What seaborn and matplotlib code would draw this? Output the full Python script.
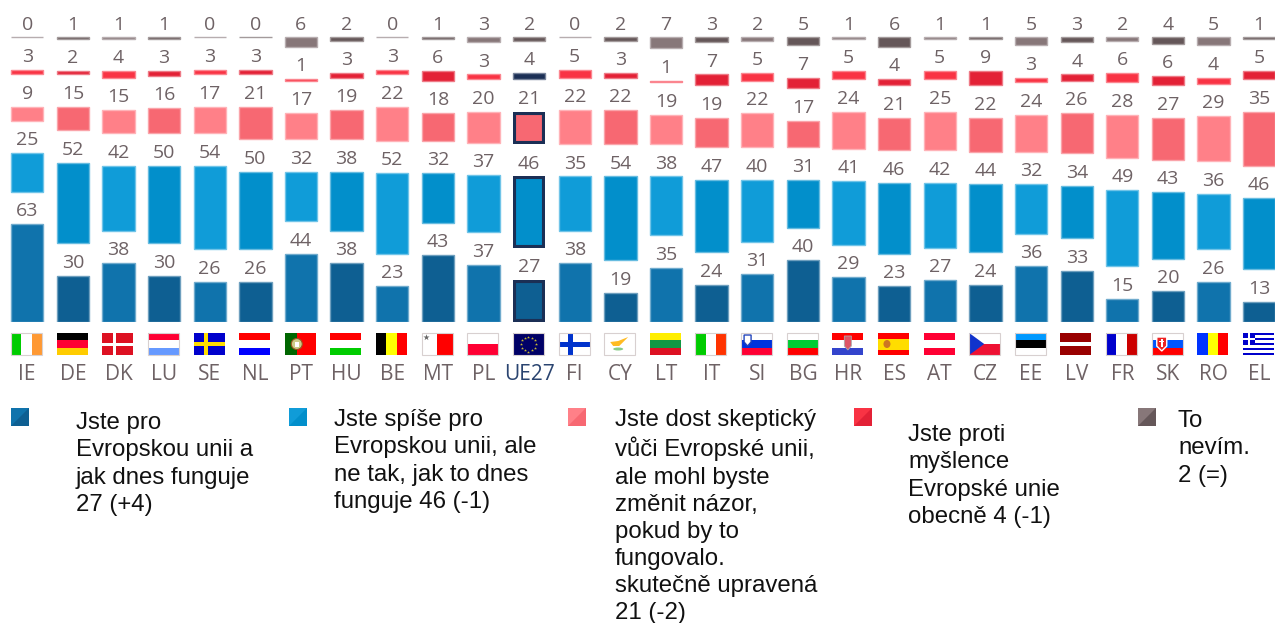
import numpy as np
import pandas as pd
import matplotlib
matplotlib.use('Agg')
import matplotlib.pyplot as plt
from matplotlib.colors import to_rgb
from matplotlib.patches import Rectangle, Polygon, Circle, Ellipse
import seaborn as sns

### data
countries = ['IE', 'DE', 'DK', 'LU', 'SE', 'NL', 'PT', 'HU', 'BE', 'MT', 'PL', 'UE27', 'FI', 'CY',
             'LT', 'IT', 'SI', 'BG', 'HR', 'ES', 'AT', 'CZ', 'EE', 'LV', 'FR', 'SK', 'RO', 'EL']
pro = [63, 30, 38, 30, 26, 26, 44, 38, 23, 43, 37, 27, 38, 19,
       35, 24, 31, 40, 29, 23, 27, 24, 36, 33, 15, 20, 26, 13]
spise_pro = [25, 52, 42, 50, 54, 50, 32, 38, 52, 32, 37, 46, 35, 54,
             38, 47, 40, 31, 41, 46, 42, 44, 32, 34, 49, 43, 36, 46]
skepticky = [9, 15, 15, 16, 17, 21, 17, 19, 22, 18, 20, 21, 22, 22,
             19, 19, 22, 17, 24, 21, 25, 22, 24, 26, 28, 27, 29, 35]
proti = [3, 2, 4, 3, 3, 3, 1, 3, 3, 6, 3, 4, 5, 3,
         1, 7, 5, 7, 5, 4, 5, 9, 3, 4, 6, 6, 4, 5]
nevim = [0, 1, 1, 1, 0, 0, 6, 2, 0, 1, 3, 2, 0, 2,
         7, 3, 2, 5, 1, 6, 1, 1, 5, 3, 2, 4, 5, 1]
series = [pro, spise_pro, skepticky, proti, nevim]

# every country alternates light / dark tone of the same colour
light = ['#1073AC', '#109CD8', '#FF8088', '#F93344', '#877779']
dark = ['#0E5F92', '#028FCB', '#F76872', '#E32136', '#655759']
navy = '#1B2F55'

legend_texts = ['Jste pro\nEvropskou unii a\njak dnes funguje\n27 (+4)',
                'Jste spíše pro\nEvropskou unii, ale\nne tak, jak to dnes\nfunguje 46 (-1)',
                'Jste dost skeptický\nvůči Evropské unii,\nale mohl byste\nzměnit názor,\npokud by to\nfungovalo.\nskutečně upravená\n21 (-2)',
                'Jste proti\nmyšlence\nEvropské unie\nobecně 4 (-1)',
                'To\nnevím.\n2 (=)']
legend_swatch_x = [11, 289, 568, 853.5, 1138]
legend_text_x = [76, 334, 615, 908, 1178]
legend_text_y = [412, 409, 409, 424, 410]
legend_spacing = [1.32, 1.32, 1.3, 1.32, 1.32]

W, H = 1275, 623
BASE = 322       # pixel row of the bars' baseline
UNIT = 1.55      # pixels per percent
GAP = 20.9       # empty space between two segments, in percent
PITCH = 45.63
FIRST = 27.2

sns.set_theme(style='white')
plt.rcParams['font.family'] = ['Open Sans', 'DejaVu Sans']

fig = plt.figure(figsize=(W / 100, H / 100), dpi=100, facecolor='white')
ax = fig.add_axes([0, (H - BASE) / H, 1, BASE / H])


def lighten(c, k=0.4):
    return tuple(np.array(to_rgb(c)) * (1 - k) + k)


### stacked bars, each segment lifted by the gap
EU = countries.index('UE27')
bottoms = np.zeros(len(countries))
for s, values in enumerate(series):
    df = pd.DataFrame({'country': countries, 'value': values})
    sns.barplot(data=df, x='country', y='value', order=countries, bottom=bottoms, width=0.708,
                color=light[s], errorbar=None, linewidth=1, saturation=1, ax=ax)
    for i, bar in enumerate(ax.containers[-1]):
        col = light[s] if i % 2 == 0 else dark[s]
        bar.set_facecolor(col)
        bar.set_edgecolor(lighten(col))
        if i == EU and s < 3:
            bar.set_edgecolor(navy)
            bar.set_linewidth(4.4)
            bar.set_clip_path(bar)
        if i == EU and s == 3:
            bar.set_facecolor(navy)
            bar.set_edgecolor(lighten(navy))
    for i, v in enumerate(values):
        ax.annotate(str(v), (i, bottoms[i] + v), xytext=(0, 5.7), textcoords='offset points',
                    ha='center', va='baseline', fontsize=14, color='#6E6265')
    bottoms = bottoms + np.array(values) + GAP

ax.set_xlim(-FIRST / PITCH, (W - FIRST) / PITCH)
ax.set_ylim(0, BASE / UNIT)
ax.set_xlabel('')
ax.set_ylabel('')
ax.set_yticks([])
ax.tick_params(axis='x', length=0, pad=30, labelsize=15, labelcolor='#6E6265')
ax.get_xticklabels()[EU].set_color('#2A4470')
sns.despine(ax=ax, left=True, bottom=True)
ax.patch.set_alpha(0)

### flags and legend squares live on an overlay in pixel units
ov = fig.add_axes([0, 0, 1, 1])
ov.set_xlim(0, W)
ov.set_ylim(H, 0)
ov.axis('off')
ov.patch.set_alpha(0)

FW, FH, FY = 31, 22, 333

h_flags = {'DE': ['#000000', '#FF0033', '#FFCC00'], 'LU': ['#FF0033', '#FFFFFF', '#6699FF'],
           'NL': ['#FF0000', '#FFFFFF', '#0000FF'], 'HU': ['#FF0000', '#FFFFFF', '#00CC00'],
           'AT': ['#FF0033', '#FFFFFF', '#FF0033'], 'EE': ['#0099FF', '#000000', '#FFFFFF'],
           'LT': ['#FFEE00', '#119944', '#DD1122'], 'SI': ['#FFFFFF', '#0033DD', '#FF0033'],
           'BG': ['#FFFFFF', '#00CC33', '#FF0000'], 'HR': ['#FF0000', '#FFFFFF', '#3344CC'],
           'SK': ['#FFFFFF', '#0055FF', '#FF0000'], 'PL': ['#FFFFFF', '#FF0033'],
           'LV': ['#990000', '#990000', '#FFFFFF', '#990000', '#990000'],
           'ES': ['#FF0000', '#FFDD00', '#FFDD00', '#FF0000'],
           'EL': ['#0000CC', '#FFFFFF'] * 4 + ['#0000CC']}
v_flags = {'IE': ['#00CC00', '#FFFFFF', '#FF9933'], 'BE': ['#000000', '#FFFF00', '#FF0000'],
           'IT': ['#00CC00', '#FFFFFF', '#FF3300'], 'FR': ['#0000CC', '#FFFFFF', '#CC0000'],
           'RO': ['#0033FF', '#FFFF00', '#FF0000'], 'MT': ['#FFFFFF', '#FF0000'],
           'PT': ['#006600', '#006600', '#FF0000', '#FF0000', '#FF0000']}
cross_flags = {'DK': ['#DD1122', '#FFFFFF', 3], 'SE': ['#0000CC', '#FFDD00', 4], 'FI': ['#FFFFFF', '#0033CC', 5]}
bordered = ['IE', 'IT', 'FR', 'LU', 'MT', 'PL', 'FI', 'CY', 'SI', 'BG', 'CZ', 'EE', 'SK', 'UE27']


def rect(x, y, w, h, c, z=2):
    ov.add_patch(Rectangle((x, y), w, h, facecolor=c, edgecolor='none', zorder=z))


def draw_flag(code, x):
    if code in h_flags:
        cols = h_flags[code]
        for k, c in enumerate(cols):
            rect(x, FY + k * FH / len(cols), FW, FH / len(cols), c)
    elif code in v_flags:
        cols = v_flags[code]
        for k, c in enumerate(cols):
            rect(x + k * FW / len(cols), FY, FW / len(cols), FH, c)
    elif code in cross_flags:
        bg, fg, t = cross_flags[code]
        rect(x, FY, FW, FH, bg)
        rect(x + 12 - t / 2, FY, t, FH, fg, 3)
        rect(x, FY + 11 - t / 2, FW, t, fg, 3)
    elif code == 'UE27':
        rect(x, FY, FW, FH, '#000066')
        a = np.arange(12) * np.pi / 6
        ov.scatter(x + FW / 2 + 7.5 * np.cos(a), FY + FH / 2 + 7.5 * np.sin(a), s=5, marker='*',
                   color='#CCBB33', linewidths=0, zorder=3)
    elif code == 'CY':
        rect(x, FY, FW, FH, '#FFFFFF')
        ov.add_patch(Polygon([[x + 6, FY + 9], [x + 14, FY + 8], [x + 24, FY + 4], [x + 19, FY + 9],
                              [x + 15, FY + 13], [x + 9, FY + 13]], facecolor='#FFBB22',
                             edgecolor='none', zorder=3))
        ov.add_patch(Ellipse((x + 14, FY + 16), 10, 3, facecolor='#88CC88', edgecolor='none', zorder=3))
    elif code == 'CZ':
        rect(x, FY, FW, FH / 2, '#FFFFFF')
        rect(x, FY + FH / 2, FW, FH / 2, '#EE1133')
        ov.add_patch(Polygon([[x, FY], [x + 15, FY + FH / 2], [x, FY + FH]], facecolor='#1133CC',
                             edgecolor='none', zorder=3))
    # small emblems
    if code == 'PT':
        ov.add_patch(Circle((x + 12, FY + 11), 5.5, facecolor='#CCCC88', edgecolor='#995522', lw=0.8, zorder=3))
        rect(x + 10, FY + 8.5, 4, 5, '#FFFFFF', 4)
    if code == 'ES':
        ov.add_patch(Ellipse((x + 9, FY + 11), 7, 8, facecolor='#CC7722', edgecolor='none', zorder=3))
    if code == 'SI':
        ov.add_patch(Polygon([[x + 3, FY + 2], [x + 10, FY + 2], [x + 10, FY + 9], [x + 6.5, FY + 13], [x + 3, FY + 9]],
                             facecolor='#FFFFFF', edgecolor='#2244BB', lw=1, zorder=3))
    if code == 'SK':
        ov.add_patch(Polygon([[x + 5, FY + 4], [x + 15, FY + 4], [x + 15, FY + 13], [x + 10, FY + 18], [x + 5, FY + 13]],
                             facecolor='#EE2222', edgecolor='#FFFFFF', lw=1, zorder=3))
        rect(x + 9.2, FY + 6, 1.6, 8, '#FFFFFF', 4)
        rect(x + 7.5, FY + 8, 5, 1.4, '#FFFFFF', 4)
    if code == 'HR':
        ov.add_patch(Polygon([[x + 12, FY + 3], [x + 19, FY + 3], [x + 19, FY + 13], [x + 15.5, FY + 17], [x + 12, FY + 13]],
                             facecolor='#DD5566', edgecolor='#AAAAAA', lw=0.6, zorder=3))
    if code == 'MT':
        ov.scatter([x + 4], [FY + 4], s=22, marker='*', color='#666666', linewidths=0, zorder=3)
    if code == 'EL':
        rect(x, FY, 12, 12.2, '#0000CC', 3)
        rect(x + 4.8, FY, 2.4, 12.2, '#FFFFFF', 4)
        rect(x, FY + 4.9, 12, 2.4, '#FFFFFF', 4)
    if code in bordered:
        ov.add_patch(Rectangle((x, FY), FW, FH, facecolor='none', edgecolor='#D8D0D0', lw=0.8, zorder=5))


for i, code in enumerate(countries):
    draw_flag(code, 11 + PITCH * i)

### legend: two-tone square + text block
for k, txt in enumerate(legend_texts):
    x0, y0, sq = legend_swatch_x[k], 407.5, 18
    rect(x0, y0, sq, sq, light[k])
    ov.add_patch(Polygon([[x0 + sq, y0], [x0 + sq, y0 + sq], [x0, y0 + sq]], facecolor=dark[k],
                         edgecolor='none', zorder=3))
    ov.text(legend_text_x[k], legend_text_y[k], txt, family='Liberation Sans', fontsize=17.3,
            color='#111111', ha='left', va='top', linespacing=legend_spacing[k])

fig.savefig('out.png', dpi=100)
